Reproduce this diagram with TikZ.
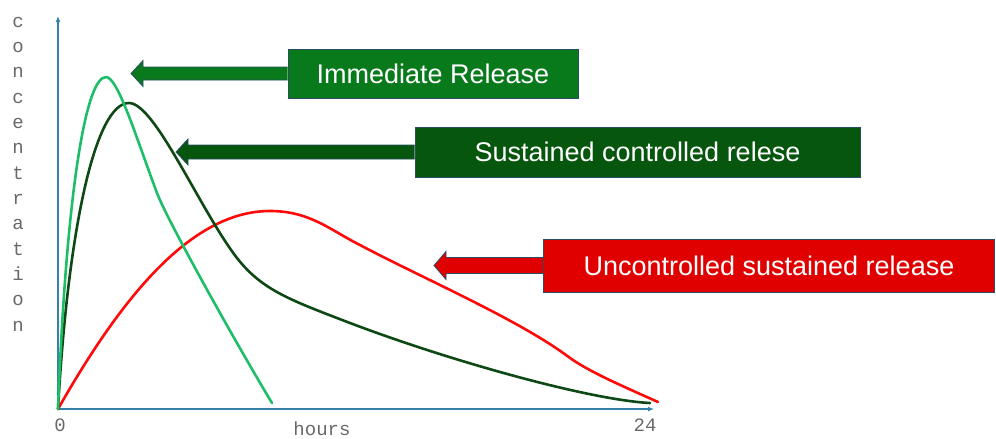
\documentclass[tikz,border=0pt]{standalone}
\usepackage{fontspec}
\setmainfont{Liberation Sans}
\newfontfamily\monof{Liberation Mono}
\usetikzlibrary{arrows.meta}
\definecolor{axisblue}{RGB}{52,130,170}
\definecolor{lgreen}{RGB}{30,190,105}
\definecolor{dgreen}{RGB}{14,72,20}
\definecolor{cred}{RGB}{255,10,10}
\definecolor{boxone}{RGB}{8,122,28}
\definecolor{boxtwo}{RGB}{6,86,14}
\definecolor{boxthree}{RGB}{224,0,0}
\definecolor{bordc}{RGB}{40,78,100}
\definecolor{labgray}{RGB}{105,105,105}
\tikzset{
  labelbox/.style={draw=bordc, line width=0.8pt, text=white, inner sep=0pt,
    font=\fontsize{27}{30}\selectfont},
  blockarrow/.style={draw=bordc, line width=0.8pt},
  curve/.style={line width=2.6pt, line join=round, line cap=round},
  axisline/.style={draw=axisblue, line width=1.2pt, -{Latex[length=6pt,width=5pt]}},
  monolab/.style={text=labgray, font=\monof\fontsize{19}{25.33}\selectfont, inner sep=0pt}
}
\begin{document}
\begin{tikzpicture}[x=1pt,y=-1pt]
\useasboundingbox (0,0) rectangle (996,439);
% axes
\coordinate (O) at (58,409);
\coordinate (Ytop) at (58,16);
\coordinate (Xend) at (654,409);
\draw[axisline] (O) -- (Ytop);
\draw[axisline] (O) -- (Xend);
% axis labels
\node[monolab, align=center] (ylab) at (18,174) {c\\o\\n\\c\\e\\n\\t\\r\\a\\t\\i\\o\\n};
\node[monolab] (zero) at (60,425) {0};
\node[monolab] (tf) at (645,425) {24};
\node[monolab] (hours) at (322,429) {hours};
% curves
\draw[curve, cred] (O) .. controls (120,300) and (190,211) .. (270,211)
  .. controls (310,211) and (330,230) .. (360,245)
  .. controls (420,277) and (520,320) .. (570,358)
  .. controls (590,372) and (620,385) .. (658,402);
\draw[curve, dgreen] (O) .. controls (68,230) and (95,103) .. (129,103)
  .. controls (155,103) and (200,210) .. (237,258)
  .. controls (262,290) and (290,300) .. (350,323)
  .. controls (450,361) and (590,400) .. (650,403);
\draw[curve, lgreen] (O) .. controls (66,200) and (85,77) .. (106,77)
  .. controls (118,77) and (137,140) .. (157,193)
  .. controls (168,222) and (240,350) .. (272,403);
% boxes
\node[labelbox, fill=boxone, minimum width=290pt, minimum height=49pt] (b1) at (433,73.5) {Immediate Release};
\node[labelbox, fill=boxtwo, minimum width=445pt, minimum height=50pt] (b2) at (637.5,152) {Sustained controlled relese};
\node[labelbox, fill=boxthree, minimum width=451pt, minimum height=53pt] (b3) at (769,265.5) {Uncontrolled sustained release};
% arrow tips
\coordinate (t1) at (131,73.5);
\coordinate (t2) at (176,152);
\coordinate (t3) at (434,265.5);
\fill[boxone] ([yshift=-6.5pt]b1.west) -- ([xshift=12pt,yshift=-6.5pt]t1) -- ([xshift=12pt,yshift=-13pt]t1) -- (t1) -- ([xshift=12pt,yshift=13pt]t1) -- ([xshift=12pt,yshift=6.5pt]t1) -- ([yshift=6.5pt]b1.west) -- cycle;
\draw[blockarrow] ([yshift=-6.5pt]b1.west) -- ([xshift=12pt,yshift=-6.5pt]t1) -- ([xshift=12pt,yshift=-13pt]t1) -- (t1) -- ([xshift=12pt,yshift=13pt]t1) -- ([xshift=12pt,yshift=6.5pt]t1) -- ([yshift=6.5pt]b1.west);
\fill[boxtwo] ([yshift=-7pt]b2.west) -- ([xshift=12pt,yshift=-7pt]t2) -- ([xshift=12pt,yshift=-13pt]t2) -- (t2) -- ([xshift=12pt,yshift=13pt]t2) -- ([xshift=12pt,yshift=7pt]t2) -- ([yshift=7pt]b2.west) -- cycle;
\draw[blockarrow] ([yshift=-7pt]b2.west) -- ([xshift=12pt,yshift=-7pt]t2) -- ([xshift=12pt,yshift=-13pt]t2) -- (t2) -- ([xshift=12pt,yshift=13pt]t2) -- ([xshift=12pt,yshift=7pt]t2) -- ([yshift=7pt]b2.west);
\fill[boxthree] ([yshift=-8pt]b3.west) -- ([xshift=12pt,yshift=-8pt]t3) -- ([xshift=12pt,yshift=-14pt]t3) -- (t3) -- ([xshift=12pt,yshift=14pt]t3) -- ([xshift=12pt,yshift=8pt]t3) -- ([yshift=8pt]b3.west) -- cycle;
\draw[blockarrow] ([yshift=-8pt]b3.west) -- ([xshift=12pt,yshift=-8pt]t3) -- ([xshift=12pt,yshift=-14pt]t3) -- (t3) -- ([xshift=12pt,yshift=14pt]t3) -- ([xshift=12pt,yshift=8pt]t3) -- ([yshift=8pt]b3.west);
\end{tikzpicture}
\end{document}
